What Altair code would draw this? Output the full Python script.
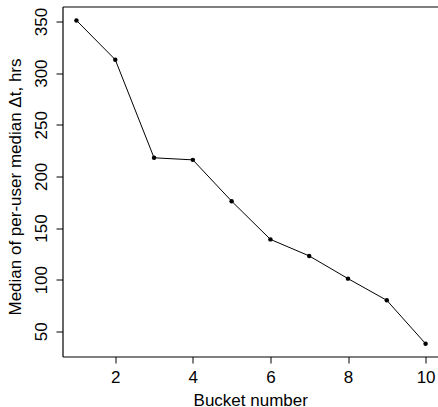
import altair as alt
import pandas as pd

buckets = [1, 2, 3, 4, 5, 6, 7, 8, 9, 10]
medians = [351, 313, 218, 216, 176, 139, 123, 101, 80, 38]
x_ticks = [2, 4, 6, 8, 10]
y_ticks = [50, 100, 150, 200, 250, 300, 350]

df = pd.DataFrame({"bucket": buckets, "median": medians})

FONT = "Liberation Sans"
FS = 17

x_scale = alt.Scale(domain=[0.64, 10.32], nice=False, zero=False)
y_scale = alt.Scale(domain=[25.6, 364.5], nice=False, zero=False)

x_bottom = alt.X(
    "bucket:Q",
    scale=x_scale,
    axis=alt.Axis(
        values=x_ticks,
        title="Bucket number",
        grid=False,
        tickSize=6.5,
        tickColor="black",
        domainColor="black",
        domainWidth=1.2,
        labelBaseline="alphabetic",
        labelPadding=19.5,
        labelFontSize=FS,
        labelFont=FONT,
        labelColor="black",
        titleFont=FONT,
        titleFontSize=FS,
        titleFontWeight="normal",
        titleColor="black",
        titleBaseline="alphabetic",
        titleY=48.5,
        labelFlush=False,
        labelOverlap=False,
    ),
)

y_left = alt.Y(
    "median:Q",
    scale=y_scale,
    axis=alt.Axis(
        values=y_ticks,
        title="Median of per-user median Δt, hrs",
        grid=False,
        tickSize=6.5,
        tickColor="black",
        domainColor="black",
        domainWidth=1.2,
        labelAngle=-90,
        labelAlign="center",
        labelBaseline="alphabetic",
        labelPadding=10,
        labelFontSize=FS,
        labelFont=FONT,
        labelColor="black",
        titleFont=FONT,
        titleFontSize=FS,
        titleFontWeight="normal",
        titleColor="black",
        titleAngle=-90,
        titleAlign="center",
        titleBaseline="alphabetic",
        titleX=-42.5,
        titleY=180,
        labelFlush=False,
        labelOverlap=False,
    ),
)

line = alt.Chart(df).mark_line(color="black", strokeWidth=1).encode(x=x_bottom, y=y_left)
points = alt.Chart(df).mark_circle(color="black", size=20, opacity=1).encode(
    x=x_bottom,
    y=y_left,
)
top = alt.Chart(df).mark_point(opacity=0).encode(
    x=alt.X(
        "bucket:Q",
        scale=x_scale,
        axis=alt.Axis(
            orient="top",
            labels=False,
            ticks=False,
            title=None,
            grid=False,
            domainColor="black",
            domainWidth=1.2,
        ),
    ),
    y=y_left,
)

chart = (
    alt.layer(alt.layer(line, points), top)
    .resolve_axis(x="independent")
    .properties(
        width=375.5,
        height=350,
        autosize=alt.AutoSizeParams(type="none"),
        padding={"left": 62.5, "top": 6.5, "right": 0, "bottom": 50.5},
        background="white",
    )
    .configure_view(stroke=None)
)

chart.save("out.html", embed_options={"renderer": "svg", "actions": False})
